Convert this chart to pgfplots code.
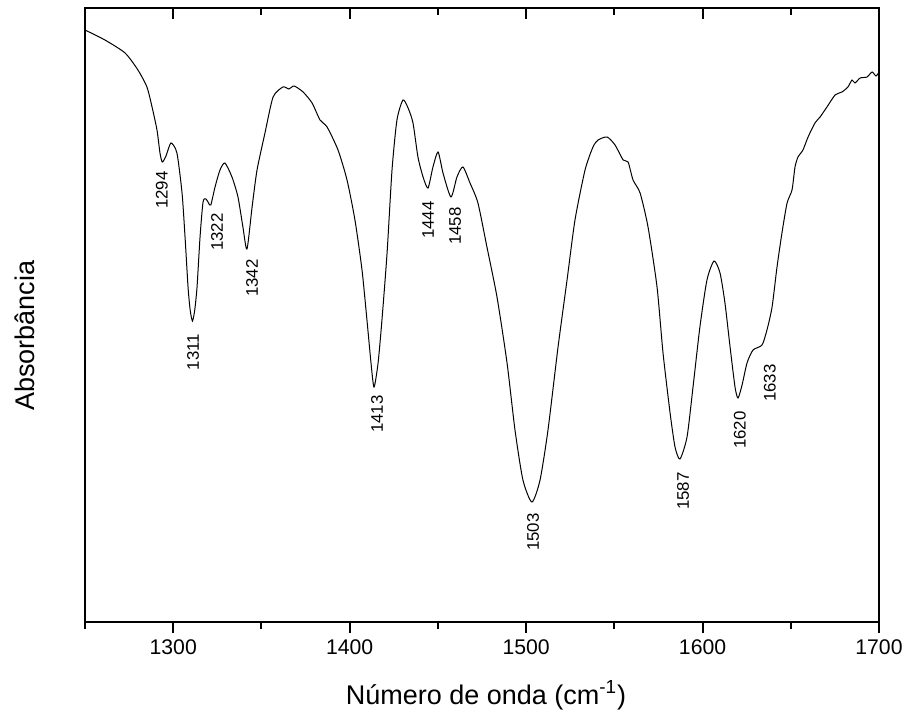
\documentclass[border=0pt]{standalone}
\usepackage{fontspec}
\setmainfont{Liberation Sans}
\usepackage{pgfplots}
\pgfplotsset{compat=1.18}
\begin{document}
\begin{tikzpicture}
\pgfplotsset{
  common/.style={
    at={(0,0)}, anchor=south west,
    scale only axis, width=397pt, height=307pt,
    xmin=1250, xmax=1700, ymin=0, ymax=614,
    axis line style={line width=1pt},
    xtick={1300,1400,1500,1600,1700},
    minor xtick={1250,1350,1450,1550,1650},
    major tick length=5.5pt, minor tick length=3.5pt,
    every tick/.style={black, line width=1pt},
    ytick=\empty,
    /pgf/number format/assume math mode=true,
    /pgf/number format/set thousands separator={},
  }
}
\begin{axis}[common,
  xtick pos=top, tick align=inside, xticklabels={},
]
\end{axis}
\begin{axis}[common,
  xtick pos=bottom, tick align=outside,
  xticklabel style={font=\fontsize{10.6}{12}\selectfont},
  xlabel={Número de onda (cm\textsuperscript{-1})},
  xlabel style={at={(rel axis cs:0.505,0)}, anchor=base, yshift=-41pt, font=\fontsize{13.5}{16}\selectfont},
  ylabel={Absorbância},
  ylabel style={at={(rel axis cs:-0.0756,0.466)}, anchor=center, font=\fontsize{13.5}{16}\selectfont},
  clip=false,
]
\addplot[black, line width=0.5pt, smooth, tension=0.4] coordinates {
(1250.0,592) (1261.3,582) (1272.7,569) (1280.0,552) (1285.1,535) (1288.0,515)
(1290.8,492) (1292.5,469) (1293.8,460) (1295.9,466) (1298.7,479) (1302.1,469)
(1305.0,429) (1306.7,385) (1308.4,335) (1309.6,312) (1310.9,301) (1312.2,312)
(1313.5,335) (1315.2,385) (1316.9,420) (1318.6,423) (1320.0,419) (1321.3,417)
(1323.7,435) (1326.5,452) (1329.3,459) (1333.3,445) (1336.7,425) (1339.5,395)
(1341.8,373) (1344.7,415) (1347.5,452) (1352.0,489) (1356.6,525) (1362.2,535)
(1365.6,533) (1368.5,536) (1373.6,530) (1378.7,519) (1383.2,502) (1387.2,495)
(1393.4,472) (1398.5,442) (1403.0,402) (1407.0,352) (1409.8,302) (1412.1,259)
(1413.8,235) (1416.1,259) (1418.3,302) (1421.2,369) (1424.0,452) (1426.8,502)
(1430.2,522) (1433.1,514) (1435.9,499) (1438.7,465) (1441.6,445) (1444.4,434)
(1447.2,455) (1450.1,470) (1452.9,449) (1457.4,425) (1460.8,445) (1464.2,455)
(1468.2,439) (1472.7,419) (1477.8,375) (1483.5,325) (1489.2,259) (1493.7,192)
(1498.2,142) (1503.3,120) (1507.9,142) (1512.4,192) (1518.1,275) (1523.2,342)
(1527.7,402) (1533.4,452) (1537.9,475) (1540.8,482) (1545.9,485) (1550.4,477)
(1555.0,462) (1557.8,460) (1560.6,442) (1564.6,429) (1569.1,395) (1574.2,335)
(1577.6,269) (1581.6,209) (1584.4,175) (1587.2,163) (1591.2,185) (1594.6,235)
(1598.5,295) (1602.5,342) (1606.5,361) (1609.9,349) (1612.7,319) (1615.6,275)
(1618.4,235) (1620.1,224) (1622.4,237) (1625.2,259) (1628.6,272) (1633.7,277)
(1636.5,292) (1639.4,315) (1642.2,355) (1645.0,389) (1647.9,419) (1650.7,432)
(1652.4,455) (1654.1,465) (1656.9,472) (1659.8,485) (1663.7,499) (1666.6,505)
(1670.5,515) (1675.1,527) (1679.0,530) (1682.4,535) (1684.7,542) (1686.4,539)
(1689.3,544) (1693.2,545) (1696.1,550) (1698.3,546) (1700.0,550)
};
\begin{scope}[every node/.style={rotate=90, font=\fontsize{8.4}{9}\selectfont, inner sep=0pt}]
\node at (axis cs:1293.6,432) {1294};
\node at (axis cs:1311.2,270) {1311};
\node at (axis cs:1324.8,390) {1322};
\node at (axis cs:1344.7,344) {1342};
\node at (axis cs:1415.5,208) {1413};
\node at (axis cs:1444.4,402) {1444};
\node at (axis cs:1459.7,396) {1458};
\node at (axis cs:1503.9,90) {1503};
\node at (axis cs:1588.9,131) {1587};
\node at (axis cs:1621.2,192) {1620};
\node at (axis cs:1638.2,239) {1633};
\end{scope}
\end{axis}
\pgfresetboundingbox
\useasboundingbox (-42.5pt,-46pt) rectangle (410.5pt,311pt);
\end{tikzpicture}
\end{document}
